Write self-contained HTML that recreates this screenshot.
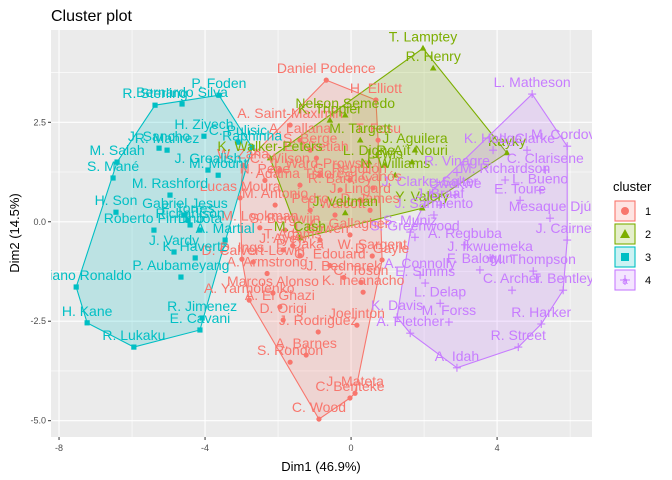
<!DOCTYPE html>
<html><head><meta charset="utf-8"><style>
html,body{margin:0;padding:0;background:#fff;}
svg{display:block;font-family:"Liberation Sans",Arial,sans-serif;}
</style></head><body>
<svg id="chart" width="672" height="480" viewBox="0 0 672 480">
<text x="51" y="21" font-size="16" fill="#000">Cluster plot</text>
<g id="panel"></g>
<text x="321" y="471" font-size="13" text-anchor="middle">Dim1 (46.9%)</text>
<text transform="translate(19,233) rotate(-90)" font-size="13" text-anchor="middle">Dim2 (14.5%)</text>
<g id="legend"></g>
</svg>
<script>
const xTicks=[-8,-4,0,4];
const yTicks=[-5,-2.5,0,2.5];
const xTickLabels=["-8","-4","0","4"];
const yTickLabels=["-5.0","-2.5","0.0","2.5"];
const clusterIds=["1","2","3","4"];
const c1Names=["Daniel Podence","H. Elliott","C. Wood","J. Mateta","C. Benteke","S. Rondon","A. Barnes","J. Rodriguez","D. Origi","A. El Ghazi","A. Yarmolenko","D. Calvert-Lewin","D. Ings","J. Ayew","Marcos Alonso","T. Fosu","D. Gayle","W. Sargent","C. Tosun","K. Iheanacho","Joelinton","W. Zaha","Lucas Moura","A. Saint-Maximin","A. Lallana","S. Berge","C. Wilson","N. Pepe","Adama Traoré","J. Ward-Prowse","R. Barkley","M. Antonio","Pedro","T. Walcott","J. Lingard","S. Bergwijn","J. Bowen","C. Gallagher","P. Daka","O. Edouard","G. Reguilón","D. James","S. Canós","E. Nketiah","M. Lookman","T. Adams","J. Bednarek","A. Armstrong"];
const c1X=[-0.68,0.68,-0.88,0.11,-0.03,-1.67,-1.23,-0.90,-1.86,-1.95,-2.79,-2.68,-2.99,-1.86,-2.14,0.74,0.85,0.58,0.27,0.33,0.16,-2.96,-3.04,-1.67,-1.40,-1.12,-1.95,-2.36,-1.40,-0.85,-0.30,-2.08,-1.12,-0.44,0.25,-1.81,-0.85,-0.03,-1.40,-0.58,-0.03,0.52,0.60,-0.95,-2.50,-1.60,-0.20,-2.30];
const c1Y=[3.56,3.06,-4.96,-4.31,-4.43,-3.53,-3.35,-2.77,-2.47,-2.14,-1.97,-1.01,-0.94,-0.71,-1.79,2.05,-0.96,-0.86,-1.52,-1.77,-2.60,1.42,0.60,2.43,2.05,1.80,1.30,1.04,0.92,1.17,0.80,0.42,0.29,0.17,0.55,-0.21,-0.46,-0.33,-0.85,-1.10,1.05,0.29,0.85,1.60,-0.15,-0.60,-1.40,-1.30];
const c2Names=["T. Lamptey","R. Henry","Kayky","R. Aït Nouri","Lewis","Nelson Semedo","K. Trippier","M. Targett","L. Digne","J. Aguilera","N. Williams","J. Veltman","Y. Valery","K. Walker-Peters","M. Cash"];
const c2X=[1.97,2.25,4.27,1.67,0.93,-0.16,-0.58,0.25,0.49,1.75,1.21,-0.16,1.95,-2.22,-1.40];
const c2Y=[4.36,3.86,1.73,1.50,1.42,2.68,2.55,2.05,1.50,1.80,1.17,0.22,0.34,1.60,-0.41];
const c3Names=["Cristiano Ronaldo","H. Kane","R. Lukaku","E. Cavani","R. Jimenez","P. Aubameyang","J. Vardy","K. Havertz","Roberto Firmino","H. Son","M. Rashford","S. Mané","M. Salah","J. Sancho","R. Mahrez","R. Sterling","Bernardo Silva","P. Foden","H. Ziyech","J. Grealish","M. Mount","C. Pulisic","Raphinha","Gabriel Jesus","F. Torres","Richarlison","D. Jota","A. Martial"];
const c3X=[-7.53,-7.23,-5.95,-4.14,-4.08,-4.66,-4.85,-4.27,-5.40,-6.44,-4.96,-6.52,-6.41,-5.26,-5.04,-5.37,-4.63,-3.62,-4.03,-3.92,-3.64,-3.10,-2.71,-4.55,-4.47,-4.41,-4.14,-3.45];
const c3Y=[-1.64,-2.54,-3.15,-2.72,-2.42,-1.39,-0.76,-0.91,-0.21,0.24,0.67,1.10,1.50,1.85,1.80,2.93,2.96,3.18,2.15,1.30,1.17,2.00,1.87,0.17,0.04,-0.08,-0.21,-0.46];
const c4Names=["L. Matheson","M. Cordova","J. Cairney","T. Bentley","R. Harker","R. Street","A. Idah","A. Fletcher","K. Davis","L. Delap","M. Forss","E. Simms","A. Connolly","F. Balogun","C. Archer","M. Thompson","J. Ikwuemeka","A. Regbuba","J. Braaf","S. Greenwood","Uwakwe","K. Hodge","L. Clarke","C. Clarisene","E. Toure","Mesaque Djú","L. Bueno","M. Richardson","J. Sarmiento","R. Vinagre","J. Clarke-Salter","S. Muniz"];
const c4X=[4.96,5.92,5.92,5.81,5.21,4.58,2.90,1.62,1.26,2.44,2.68,2.03,1.89,3.53,4.41,4.99,3.81,3.12,2.44,1.75,2.85,3.89,4.82,5.32,4.63,5.45,5.18,4.22,2.27,2.90,2.16,1.62];
const c4Y=[3.21,1.90,-0.46,-1.72,-2.57,-3.15,-3.67,-2.80,-2.40,-2.05,-2.52,-1.54,-1.34,-1.21,-1.72,-1.24,-0.91,-0.58,0.42,-0.39,0.67,1.80,1.80,1.30,0.54,0.09,0.79,1.05,0.17,1.24,0.72,-0.26];

const NS="http://www.w3.org/2000/svg";
const colors=["#F8766D","#7CAE00","#00BFC4","#C77CFF"];
const PL=51,PR=592,PT=30,PB=437;
const xMin=-8.22,xMax=6.60,yMin=-5.41,yMax=4.82;
function sx(v){return PL+(v-xMin)/(xMax-xMin)*(PR-PL);}
function sy(v){return PB-(v-yMin)/(yMax-yMin)*(PB-PT);}
function mk(tag,attrs,parent){const e=document.createElementNS(NS,tag);for(const k in attrs)e.setAttribute(k,attrs[k]);parent.appendChild(e);return e;}
const svg=document.getElementById('chart');
const panel=document.getElementById('panel');
mk('rect',{x:PL,y:PT,width:PR-PL,height:PB-PT,fill:'#EBEBEB'},panel);
for(let i=0;i<xTicks.length;i++){const m=xTicks[i]+2;if(m<xMax){mk('line',{x1:sx(m),x2:sx(m),y1:PT,y2:PB,stroke:'#fff','stroke-width':0.55},panel);}
 if(i===0){const m2=xTicks[0]-2;if(m2>xMin)mk('line',{x1:sx(m2),x2:sx(m2),y1:PT,y2:PB,stroke:'#fff','stroke-width':0.55},panel);}}
for(let i=0;i<yTicks.length;i++){const m=yTicks[i]+1.25;if(m<yMax)mk('line',{y1:sy(m),y2:sy(m),x1:PL,x2:PR,stroke:'#fff','stroke-width':0.55},panel);}
xTicks.forEach((t,i)=>{
 const g=mk('line',{x1:sx(t),x2:sx(t),y1:PT,y2:PB,stroke:'#fff','stroke-width':1.1},panel);
 
 
 mk('line',{x1:sx(t),x2:sx(t),y1:PB,y2:PB+3,stroke:'#333','stroke-width':1},svg);
 const tl=mk('text',{x:sx(t),y:PB+14,'font-size':9,'text-anchor':'middle',fill:'#4D4D4D'},svg);
 tl.textContent=xTickLabels[i];
 
 
});
yTicks.forEach((t,i)=>{
 const g=mk('line',{y1:sy(t),y2:sy(t),x1:PL,x2:PR,stroke:'#fff','stroke-width':1.1},panel);
 
 
 mk('line',{x1:PL-3,x2:PL,y1:sy(t),y2:sy(t),stroke:'#333','stroke-width':1},svg);
 const tl=mk('text',{x:PL-5,y:sy(t)+3,'font-size':9,'text-anchor':'end',fill:'#4D4D4D'},svg);
 tl.textContent=yTickLabels[i];
 
 
});
const clusters=[[c1Names,c1X,c1Y],[c2Names,c2X,c2Y],[c3Names,c3X,c3Y],[c4Names,c4X,c4Y]];
function hull(pts){pts=pts.slice().sort((a,b)=>a[0]-b[0]||a[1]-b[1]);
 const cr=(o,a,b)=>(a[0]-o[0])*(b[1]-o[1])-(a[1]-o[1])*(b[0]-o[0]);
 const lo=[],up=[];for(const p of pts){while(lo.length>=2&&cr(lo[lo.length-2],lo[lo.length-1],p)<=0)lo.pop();lo.push(p);}
 for(let i=pts.length-1;i>=0;i--){const p=pts[i];while(up.length>=2&&cr(up[up.length-2],up[up.length-1],p)<=0)up.pop();up.push(p);}
 up.pop();lo.pop();return lo.concat(up);}
const clip=mk('clipPath',{id:'pc'},mk('defs',{},svg));mk('rect',{x:PL,y:PT,width:PR-PL,height:PB-PT},clip);
const layer=mk('g',{'clip-path':'url(#pc)'},svg);
clusters.forEach((c,k)=>{
 const pts=c[1].map((v,i)=>[sx(v),sy(c[2][i])]);
 const h=hull(pts);
 const poly=mk('polygon',{points:h.map(p=>p.join(',')).join(' '),fill:colors[k],'fill-opacity':0.2,stroke:colors[k],'stroke-width':1.1},layer);
 
 
});
clusters.forEach((c,k)=>{
 c[1].forEach((v,i)=>{
  const x=sx(v),y=sy(c[2][i]),col=colors[k];let m;
  if(k===0)m=mk('circle',{cx:x,cy:y,r:2.6,fill:col},layer);
  else if(k===1)m=mk('polygon',{points:`${x},${y-3.5} ${x-3.3},${y+2.3} ${x+3.3},${y+2.3}`,fill:col},layer);
  else if(k===2)m=mk('rect',{x:x-2.6,y:y-2.6,width:5.2,height:5.2,fill:col},layer);
  else m=mk('path',{d:`M${x-4},${y}H${x+4}M${x},${y-4}V${y+4}`,stroke:col,'stroke-width':1.1},layer);
  
  
 });
});
clusters.forEach((c,k)=>{
 c[0].forEach((n,i)=>{
  const t=mk('text',{x:sx(c[1][i]),y:sy(c[2][i])-7,'font-size':14,'text-anchor':'middle',fill:colors[k]},layer);
  t.textContent=n;
  
  
 });
});
const lg=document.getElementById('legend');
const lt=mk('text',{x:613,y:191,'font-size':13},lg);lt.textContent='cluster';


clusterIds.forEach((id,k)=>{
 const y0=200+k*23,col=colors[k],cx=625,cy=y0+11;
 const g=mk('g',{},lg);
 
 
 mk('rect',{x:615,y:y0+1,width:20,height:20,fill:'#fff'},g);
 mk('rect',{x:615,y:y0+1,width:20,height:20,fill:col,'fill-opacity':0.2,stroke:col,'stroke-width':1.1},g);
 if(k===0)mk('circle',{cx:cx,cy:cy,r:4,fill:col},g);
 else if(k===1)mk('polygon',{points:`${cx},${cy-5} ${cx-5},${cy+4} ${cx+5},${cy+4}`,fill:col},g);
 else if(k===2)mk('rect',{x:cx-4,y:cy-4,width:8,height:8,fill:col},g);
 else {mk('path',{d:`M${cx-5},${cy}H${cx+5}M${cx},${cy-5}V${cy+5}`,stroke:col,'stroke-width':1.1},g);
  const a=mk('text',{x:cx,y:cy+4,'font-size':10,'text-anchor':'middle',fill:col},g);a.textContent='a';}
 const tx=mk('text',{x:645,y:cy+4,'font-size':11},g);tx.textContent=id;
});
</script>
</body></html>
